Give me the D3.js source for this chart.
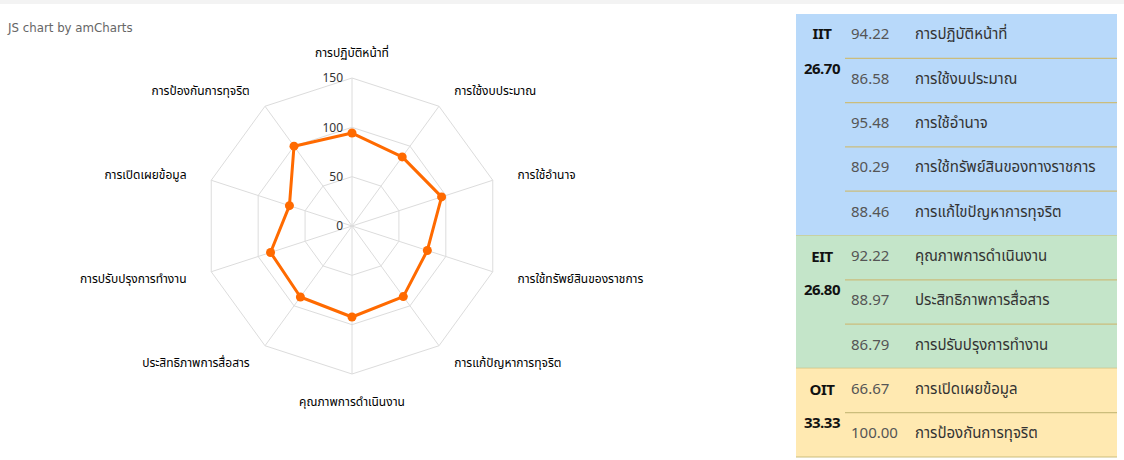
<!DOCTYPE html>
<html>
<head>
<meta charset="utf-8">
<script src="https://cdn.jsdelivr.net/npm/d3@7"></script>
<style>
  body { margin: 0; background: #fff; }
  svg { display: block; font-family: Tahoma, "Noto Sans Thai", "Noto Sans", "DejaVu Sans", sans-serif; }
</style>
</head>
<body>
<svg width="1124" height="460"></svg>
<script>
// ข้อมูลกราฟเรดาร์
var categories = ["การปฏิบัติหน้าที่", "การใช้งบประมาณ", "การใช้อำนาจ", "การใช้ทรัพย์สินของราชการ",
    "การแก้ปัญหาการทุจริต", "คุณภาพการดำเนินงาน", "ประสิทธิภาพการสื่อสาร",
    "การปรับปรุงการทำงาน", "การเปิดเผยข้อมูล", "การป้องกันการทุจริต"];
var values = [94.22, 86.58, 95.48, 80.29, 88.46, 92.22, 88.97, 86.79, 66.67, 100];
var ticks = [0, 50, 100, 150];

// ข้อมูลตาราง
var groupNames = ["IIT", "EIT", "OIT"];
var groupScores = ["26.70", "26.80", "33.33"];
var groupSizes = [5, 3, 2];
var tableValues = ["94.22", "86.58", "95.48", "80.29", "88.46", "92.22", "88.97", "86.79", "66.67", "100.00"];
var tableNames = ["การปฏิบัติหน้าที่", "การใช้งบประมาณ", "การใช้อำนาจ", "การใช้ทรัพย์สินของทางราชการ",
    "การแก้ไขปัญหาการทุจริต", "คุณภาพการดำเนินงาน", "ประสิทธิภาพการสื่อสาร",
    "การปรับปรุงการทำงาน", "การเปิดเผยข้อมูล", "การป้องกันการทุจริต"];
var groupColors = ["#b8d9fa", "#c4e5c9", "#ffe9b1"];

var svg = d3.select("svg");

svg.append("rect").attr("x", 0).attr("y", 0).attr("width", 1124).attr("height", 4).attr("fill", "#f3f3f3");

svg.append("text")
    .attr("x", 8).attr("y", 32)
    .attr("font-size", 11.8).attr("fill", "#666")
    .style("font-family", "Verdana, 'DejaVu Sans', sans-serif")
    .text("JS chart by amCharts");

// เรดาร์
var cx = 352, cy = 226;
var r = d3.scaleLinear().domain([0, 150]).range([0, 148]);
var angle = d3.scaleLinear().domain([0, categories.length]).range([0, 2 * Math.PI]);

function px(a, rad) { return cx + rad * Math.sin(a); }
function py(a, rad) { return cy - rad * Math.cos(a); }

var g = svg.append("g");

// grid polygons
ticks.filter(function (t) { return t > 0; }).forEach(function (t) {
    var pts = categories.map(function (c, i) {
        return [px(angle(i), r(t)), py(angle(i), r(t))];
    });
    g.append("polygon")
        .attr("points", pts.map(function (p) { return p.join(","); }).join(" "))
        .attr("fill", "none").attr("stroke", "#dcdcdc").attr("stroke-width", 1);
});

// axes
g.selectAll("line.axis")
    .data(categories)
    .enter().append("line")
    .attr("class", "axis")
    .attr("x1", cx).attr("y1", cy)
    .attr("x2", function (d, i) { return px(angle(i), r(150)); })
    .attr("y2", function (d, i) { return py(angle(i), r(150)); })
    .attr("stroke", "#dcdcdc").attr("stroke-width", 1);

// tick labels
g.selectAll("text.tick")
    .data(ticks)
    .enter().append("text")
    .attr("class", "tick")
    .attr("x", cx - 9)
    .attr("y", function (d) { return cy - r(d); })
    .attr("dy", "0.35em")
    .attr("text-anchor", "end")
    .attr("font-size", 12).attr("fill", "#333")
    .text(function (d) { return d; });

// category labels
g.selectAll("text.cat")
    .data(categories)
    .enter().append("text")
    .attr("class", "cat")
    .attr("x", function (d, i) { return px(angle(i), 174); })
    .attr("y", function (d, i) {
        var c = Math.cos(angle(i));
        if (Math.abs(c) > 0.99) return py(angle(i), c > 0 ? 173 : 176);
        return py(angle(i), 174) + 6 * c + 1;
    })
    .attr("dy", "0.35em")
    .attr("text-anchor", function (d, i) {
        var s = Math.sin(angle(i));
        return Math.abs(s) < 0.01 ? "middle" : (s > 0 ? "start" : "end");
    })
    .attr("font-size", 12).attr("fill", "#000")
    .text(function (d) { return d; });

// series
var line = d3.lineRadial()
    .angle(function (d, i) { return angle(i); })
    .radius(function (d) { return r(d); })
    .curve(d3.curveLinearClosed);

g.append("path")
    .datum(values)
    .attr("transform", "translate(" + cx + "," + cy + ")")
    .attr("d", line)
    .attr("fill", "none")
    .attr("stroke", "#ff6a00").attr("stroke-width", 3)
    .attr("stroke-linejoin", "round");

g.selectAll("circle.bullet")
    .data(values)
    .enter().append("circle")
    .attr("class", "bullet")
    .attr("cx", function (d, i) { return px(angle(i), r(d)); })
    .attr("cy", function (d, i) { return py(angle(i), r(d)); })
    .attr("r", 4.5)
    .attr("fill", "#ff6a00");

// ตาราง
var tx0 = 796, tx1 = 1117;
var rowY = d3.scaleLinear().domain([0, tableNames.length]).range([14, 457]);
var t = svg.append("g");

var start = 0;
groupNames.forEach(function (name, gi) {
    var y0 = rowY(start), y1 = rowY(start + groupSizes[gi]);
    t.append("rect")
        .attr("x", tx0).attr("y", y0)
        .attr("width", tx1 - tx0).attr("height", y1 - y0)
        .attr("fill", groupColors[gi]);
    t.append("text")
        .attr("x", 822).attr("y", y0 + (gi === 0 ? 19.5 : 21.5)).attr("dy", "0.35em")
        .attr("text-anchor", "middle")
        .attr("font-size", 15).attr("font-weight", "bold").attr("fill", "#111")
        .attr("letter-spacing", -0.5)
        .text(name);
    t.append("text")
        .attr("x", 822).attr("y", y0 + 54.5).attr("dy", "0.35em")
        .attr("text-anchor", "middle")
        .attr("font-size", 15).attr("font-weight", "bold").attr("fill", "#111")
        .attr("letter-spacing", -0.5)
        .text(groupScores[gi]);
    for (var k = start; k < start + groupSizes[gi]; k++) {
        var last = k === start + groupSizes[gi] - 1;
        t.append("line")
            .attr("x1", last ? tx0 : 845).attr("x2", tx1)
            .attr("y1", rowY(k + 1)).attr("y2", rowY(k + 1))
            .attr("stroke", "#cbbd7c").attr("stroke-width", 1.2);
    }
    start += groupSizes[gi];
});

t.selectAll("text.val")
    .data(tableValues)
    .enter().append("text")
    .attr("class", "val")
    .attr("x", 851)
    .attr("y", function (d, i) { return (rowY(i) + rowY(i + 1)) / 2 - 2; })
    .attr("dy", "0.35em")
    .attr("font-size", 15).attr("fill", "#555")
    .text(function (d) { return d; });

t.selectAll("text.name")
    .data(tableNames)
    .enter().append("text")
    .attr("class", "name")
    .attr("x", 915)
    .attr("y", function (d, i) { return (rowY(i) + rowY(i + 1)) / 2 - 2; })
    .attr("dy", "0.35em")
    .attr("font-size", 15).attr("fill", "#333")
    .text(function (d) { return d; });
</script>
</body>
</html>
